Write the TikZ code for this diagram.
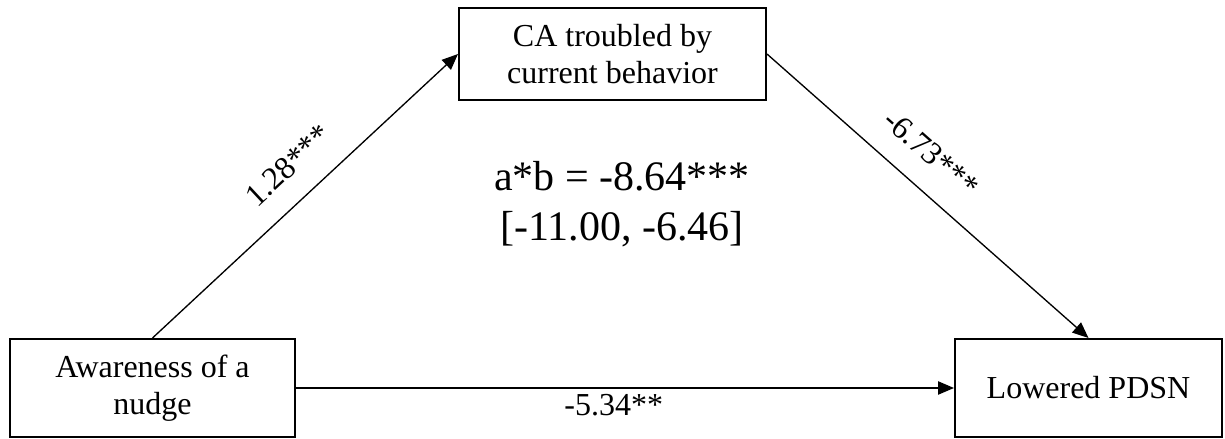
\documentclass[tikz,border=0pt]{standalone}
\usepackage{fontspec}
\setmainfont{Liberation Serif}
\usetikzlibrary{arrows.meta}
\begin{document}
\begin{tikzpicture}[x=0.75pt,y=-0.75pt,
  box/.style={draw, line width=1.5pt, align=center, inner sep=0pt, font=\fontsize{24}{27.5}\selectfont},
  conn/.style={line width=1pt, -{Triangle[length=12pt,width=10pt]}},
  lbl/.style={font=\fontsize{24}{27.5}\selectfont, inner sep=0pt},
  bigtxt/.style={font=\fontsize{31.5}{37.5}\selectfont, align=center, inner sep=0pt}]
\useasboundingbox (0,0) rectangle (1225,439);
\node[box, minimum width=230.25pt, minimum height=69pt] (med) at (612.5,54) {CA troubled by\\current behavior};
\node[box, minimum width=213.75pt, minimum height=73.5pt] (iv) at (152.5,388) {Awareness of a\\nudge};
\node[box, minimum width=200.25pt, minimum height=73.5pt] (dv) at (1088.5,388) {Lowered PDSN};
\draw[conn] (iv.north) -- node[lbl, sloped, pos=0.52, above=17pt] (la) {1.28***} (med.west);
\draw[conn] (med.east) -- node[lbl, sloped, pos=0.44, above=17pt] (lb) {-6.73***} (dv.north);
\draw[conn] (iv.east) -- node[lbl, pos=0.483, below=4.5pt] (lc) {-5.34**} (dv.west);
\node[bigtxt] (ab) at (622,204.5) {a*b = -8.64***\\{[}-11.00, -6.46{]}};
\end{tikzpicture}
\end{document}
